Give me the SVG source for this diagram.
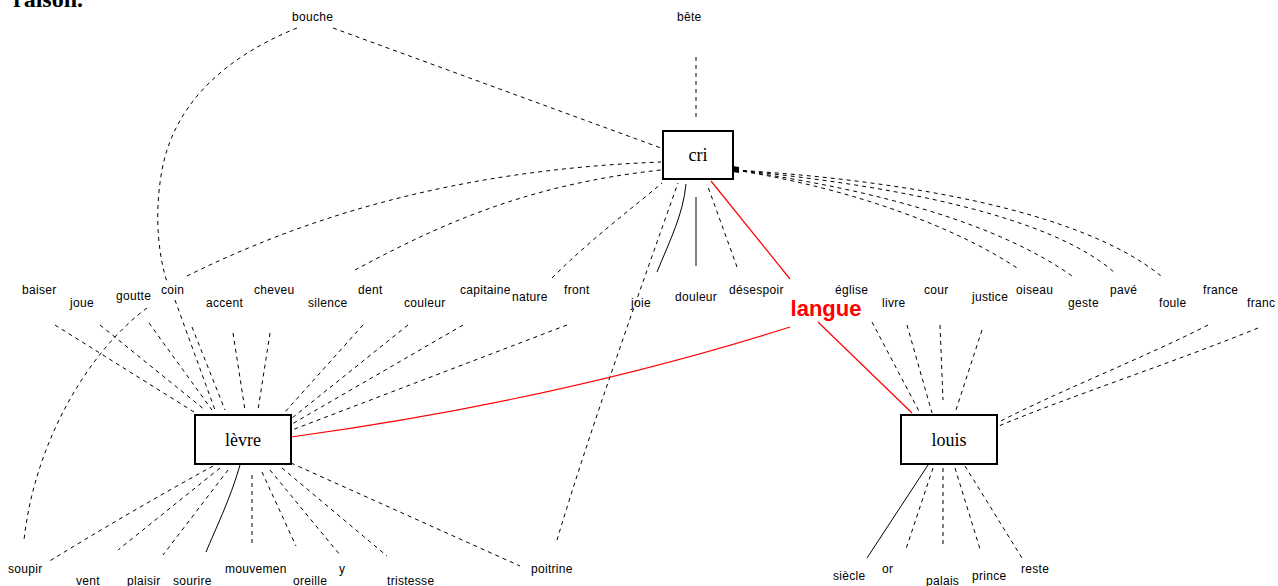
<svg xmlns="http://www.w3.org/2000/svg" width="1278" height="586" viewBox="0 0 1278 586">
<style>
.bg{fill:#fff}
.lbl{font-family:"Liberation Sans",Arial,sans-serif;font-size:12px;letter-spacing:0.3px;fill:#000}
.box{fill:#fff;stroke:#000;stroke-width:2}
.bt{font-family:"Liberation Serif","Times New Roman",serif;font-size:18px;fill:#000;text-anchor:middle}
.d{fill:none;stroke:#000;stroke-width:1;stroke-dasharray:4,4}
.s{fill:none;stroke:#000;stroke-width:1}
.r{fill:none;stroke:#f00;stroke-width:1.2}
.red{font-family:"Liberation Sans",Arial,sans-serif;font-size:22px;font-weight:bold;fill:#f00;text-anchor:middle}
</style>
<rect class="bg" x="0" y="0" width="1278" height="586"/>
<text x="13" y="7" style="font-family:'Liberation Serif',serif;font-size:24px;font-weight:bold">raison.</text>
<g id="connectors">
  <path class="d" d="M333,28 L661,148"/>
  <path class="d" d="M696,57 L696,118"/>
  <path class="d" d="M187,276 C300,220 450,170 661,162"/>
  <path class="d" d="M355,270 C430,230 520,185 661,170"/>
  <path class="d" d="M552,278 C590,240 630,210 662,183"/>
  <path class="d" d="M557,540 C590,430 640,290 678,183"/>
  <path class="s" d="M657,272 C670,240 683,215 686,184"/>
  <path class="s" d="M696,197 L696,266"/>
  <path class="d" d="M737,267 L707,184"/>
  <path class="d" d="M735,170 C900,180 1080,210 1161,276"/>
  <path class="d" d="M735,170 C890,185 1050,215 1115,273"/>
  <path class="d" d="M735,170 C880,190 1000,225 1072,276"/>
  <path class="d" d="M735,170 C860,190 960,230 1017,268"/>
  <polygon points="733,166 739,167 739,173 733,172" fill="#000"/>
  <path class="d" d="M297,28 C230,55 175,100 162,170 C153,220 160,260 167,282"/>
  <path class="d" d="M147,308 C90,350 35,440 24,540"/>
  <path class="d" d="M55,325 L194,412"/>
  <path class="d" d="M100,325 L205,410"/>
  <path class="d" d="M149,323 L212,410"/>
  <path class="d" d="M175,300 L215,410"/>
  <path class="d" d="M192,327 L225,410"/>
  <path class="d" d="M233,333 L245,410"/>
  <path class="d" d="M270,333 L258,410"/>
  <path class="d" d="M363,325 L285,412"/>
  <path class="d" d="M408,325 L292,418"/>
  <path class="d" d="M463,325 L292,424"/>
  <path class="d" d="M567,325 L292,430"/>
  <path class="d" d="M213,466 C160,495 100,530 48,562"/>
  <path class="d" d="M220,468 L118,550"/>
  <path class="d" d="M228,470 L163,555"/>
  <path class="s" d="M240,465 C230,500 215,530 206,552"/>
  <path class="d" d="M252,475 L252,545"/>
  <path class="d" d="M262,472 L296,546"/>
  <path class="d" d="M270,470 L340,555"/>
  <path class="d" d="M282,468 L387,556"/>
  <path class="d" d="M291,463 L520,566"/>
  <path class="d" d="M872,322 L920,413"/>
  <path class="d" d="M907,325 L932,413"/>
  <path class="d" d="M940,325 L943,400"/>
  <path class="d" d="M982,330 L955,413"/>
  <path class="d" d="M1208,325 C1150,355 1050,395 999,422"/>
  <path class="d" d="M1258,328 C1180,360 1060,400 999,426"/>
  <path class="s" d="M928,465 L867,558"/>
  <path class="d" d="M933,468 L906,549"/>
  <path class="d" d="M943,468 L943,545"/>
  <path class="d" d="M955,468 L980,549"/>
  <path class="d" d="M965,466 L1022,558"/>
  <path class="r" d="M711,181 L790,279"/>
  <path class="r" d="M818,322 L912,413"/>
  <path class="r" d="M291,437 Q560,400 790,327"/>
</g>
<g id="node-cri"><rect class="box" x="663" y="131" width="70" height="48"/><text class="bt" x="698" y="161">cri</text></g>
<g id="node-levre"><rect class="box" x="195" y="415" width="96" height="49"/><text class="bt" x="243" y="446">lèvre</text></g>
<g id="node-louis"><rect class="box" x="901" y="415" width="96" height="49"/><text class="bt" x="949" y="446">louis</text></g>
<g id="node-langue"><text class="red" x="826" y="316">langue</text></g>
<g id="labels">
  <text class="lbl" x="292" y="21">bouche</text>
  <text class="lbl" x="677" y="21">bête</text>
  <text class="lbl" x="22" y="294">baiser</text>
  <text class="lbl" x="70" y="307">joue</text>
  <text class="lbl" x="116" y="300">goutte</text>
  <text class="lbl" x="161" y="294">coin</text>
  <text class="lbl" x="206" y="307">accent</text>
  <text class="lbl" x="254" y="294">cheveu</text>
  <text class="lbl" x="308" y="307">silence</text>
  <text class="lbl" x="358" y="294">dent</text>
  <text class="lbl" x="404" y="307">couleur</text>
  <text class="lbl" x="460" y="294">capitaine</text>
  <text class="lbl" x="512" y="301">nature</text>
  <text class="lbl" x="564" y="294">front</text>
  <text class="lbl" x="631" y="307">joie</text>
  <text class="lbl" x="675" y="301">douleur</text>
  <text class="lbl" x="729" y="294">désespoir</text>
  <text class="lbl" x="835" y="294">église</text>
  <text class="lbl" x="882" y="307">livre</text>
  <text class="lbl" x="924" y="294">cour</text>
  <text class="lbl" x="972" y="301">justice</text>
  <text class="lbl" x="1016" y="294">oiseau</text>
  <text class="lbl" x="1068" y="307">geste</text>
  <text class="lbl" x="1110" y="294">pavé</text>
  <text class="lbl" x="1159" y="307">foule</text>
  <text class="lbl" x="1203" y="294">france</text>
  <text class="lbl" x="1247" y="307">franc</text>
  <text class="lbl" x="8" y="573">soupir</text>
  <text class="lbl" x="76" y="585">vent</text>
  <text class="lbl" x="127" y="585">plaisir</text>
  <text class="lbl" x="173" y="585">sourire</text>
  <text class="lbl" x="225" y="573">mouvemen</text>
  <text class="lbl" x="293" y="585">oreille</text>
  <text class="lbl" x="339" y="573">y</text>
  <text class="lbl" x="387" y="585">tristesse</text>
  <text class="lbl" x="531" y="573">poitrine</text>
  <text class="lbl" x="833" y="580">siècle</text>
  <text class="lbl" x="882" y="573">or</text>
  <text class="lbl" x="926" y="585">palais</text>
  <text class="lbl" x="972" y="580">prince</text>
  <text class="lbl" x="1021" y="573">reste</text>
</g>
</svg>
